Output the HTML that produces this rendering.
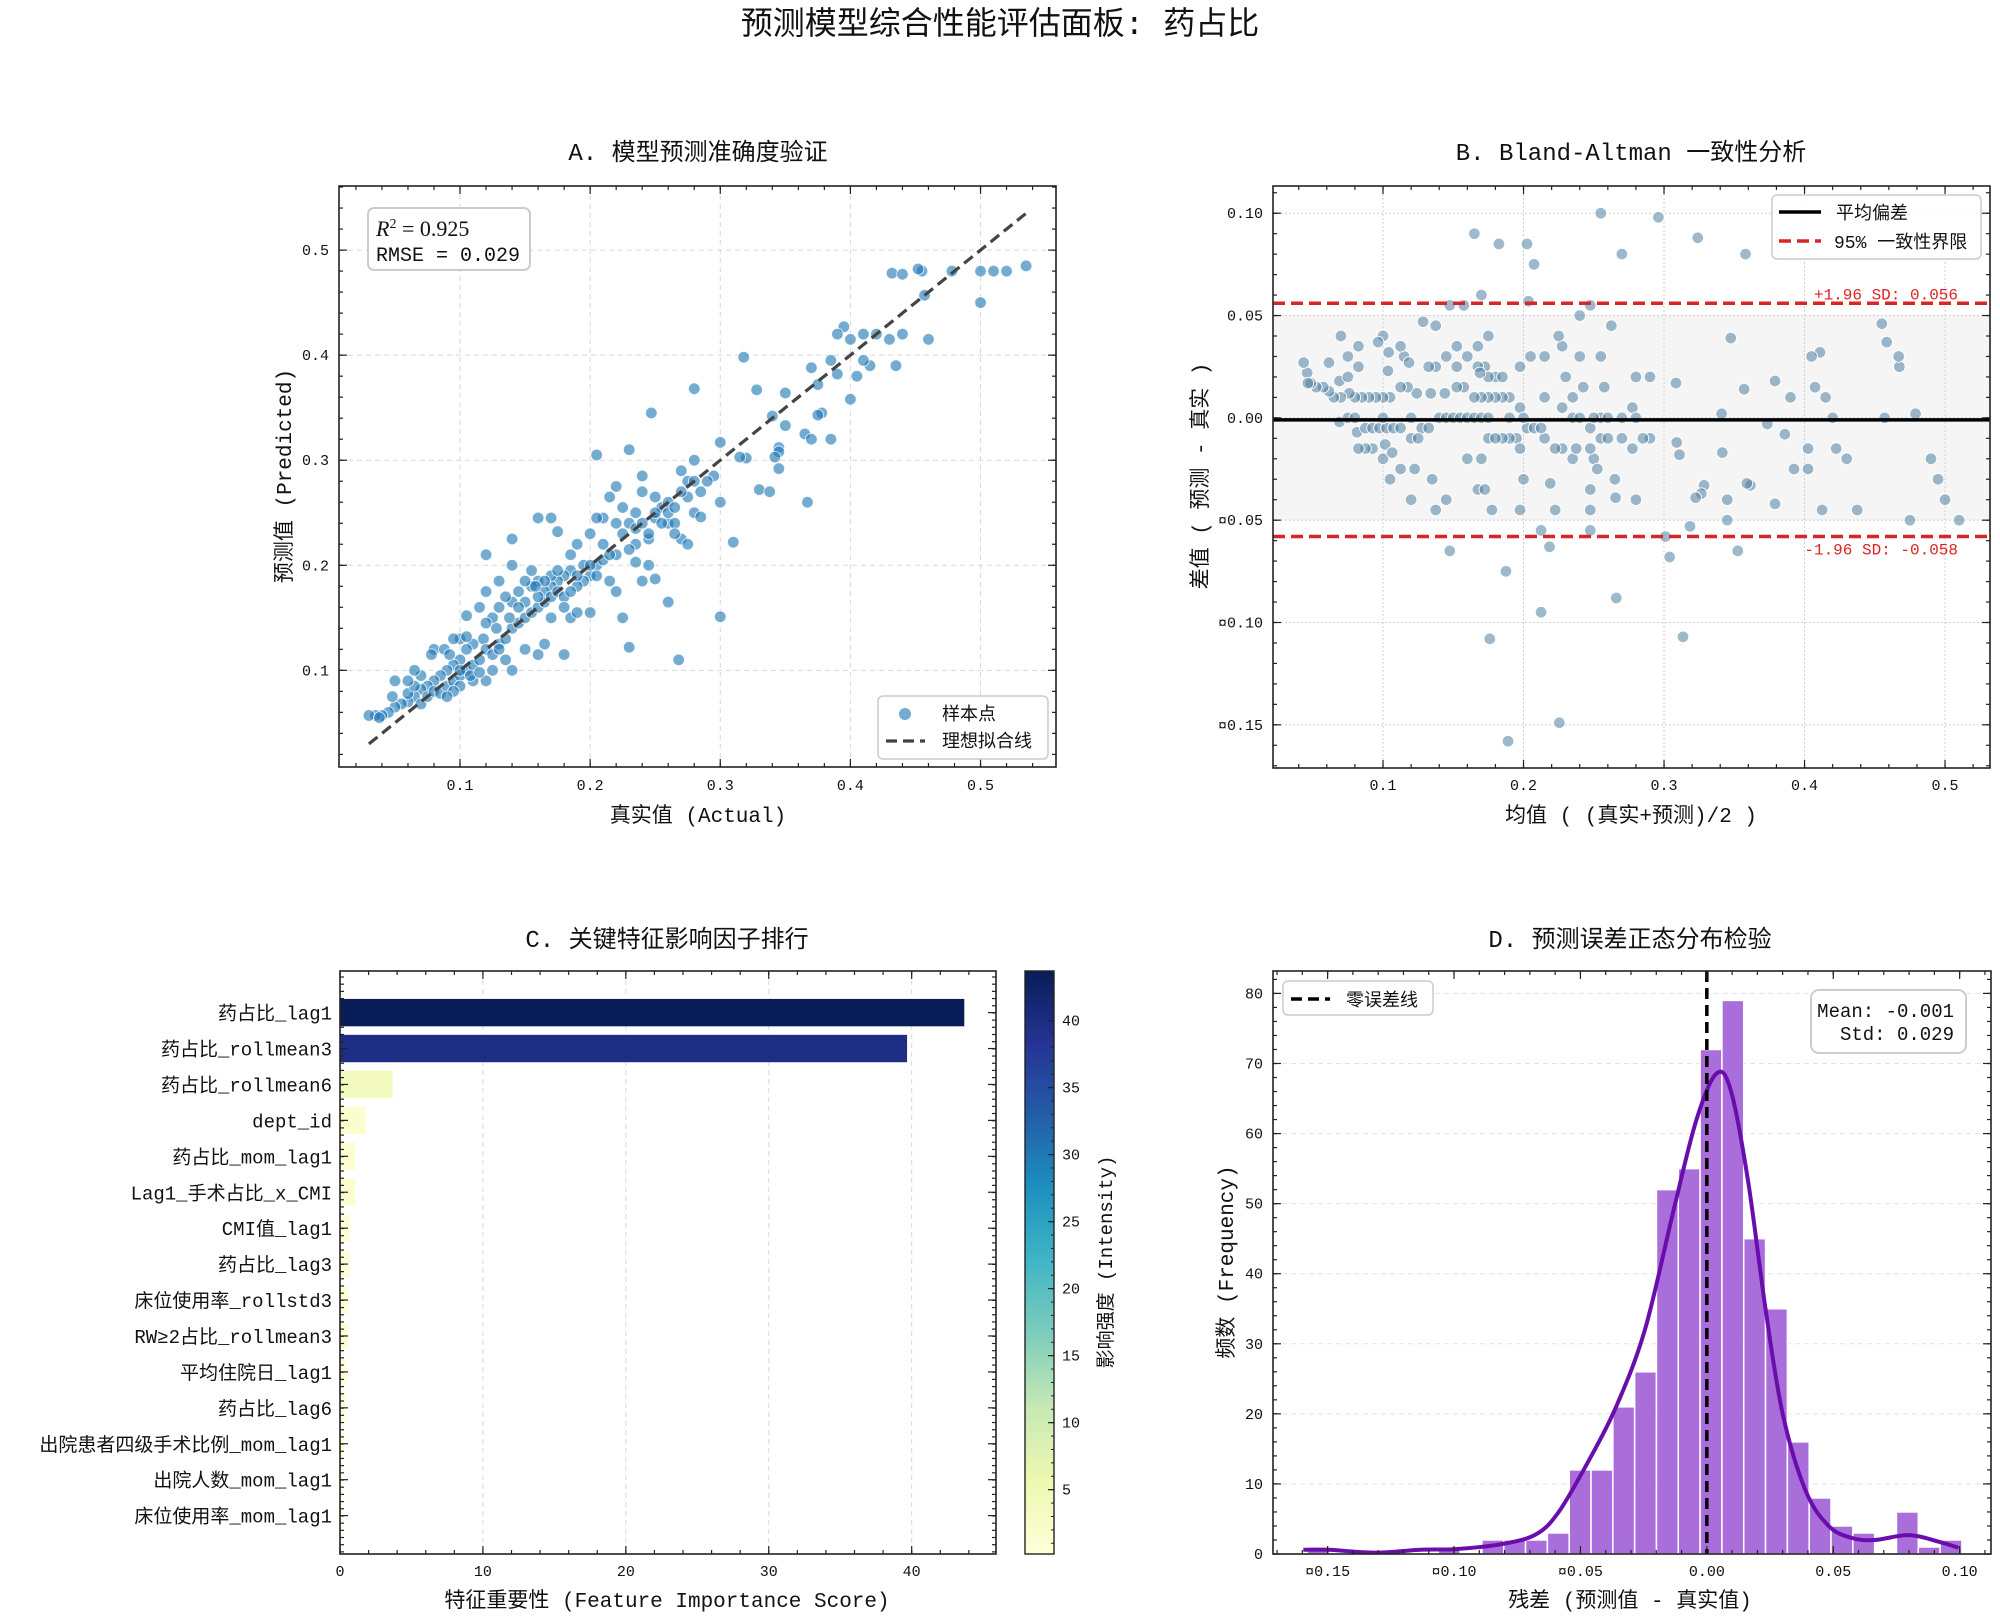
<!DOCTYPE html>
<html><head><meta charset="utf-8">
<style>
html,body{margin:0;padding:0;background:#fff;}
svg{display:block;font-family:"Liberation Mono","Noto Sans CJK SC",monospace;}
</style></head>
<body>
<svg id="chart" width="2000" height="1619" viewBox="0 0 2000 1619" xmlns="http://www.w3.org/2000/svg">
<rect x="0" y="0" width="2000" height="1619" fill="#fff"/>
<text x="1000" y="34" font-size="32" text-anchor="middle" fill="#111">预测模型综合性能评估面板: 药占比</text>
</svg>
<script>
// ---------- DATA ----------
const actualVals = [0.5,0.535,0.52,0.51,0.5,0.478,0.455,0.452,0.432,0.44,0.457,0.46,0.44,0.395,0.39,0.40,0.41,0.42,0.43,0.435,0.415,0.41,0.405,0.39,0.37,0.385,0.375,0.40,0.35,0.318,0.328,0.378,0.375,0.365,0.37,0.385,0.35,0.34,0.345,0.345,0.342,0.32,0.315,0.345,0.367,0.33,0.338,0.31,0.3,0.268,0.23,0.225,0.26,0.25,0.235,0.245,0.3,0.295,0.3,0.28,0.27,0.29,0.275,0.28,0.285,0.27,0.275,0.26,0.255,0.25,0.24,0.24,0.23,0.205,0.247,0.28,0.22,0.215,0.21,0.22,0.225,0.23,0.235,0.245,0.25,0.26,0.265,0.245,0.235,0.23,0.22,0.21,0.2,0.205,0.215,0.22,0.24,0.205,0.2,0.195,0.19,0.185,0.18,0.175,0.17,0.165,0.16,0.155,0.15,0.15,0.145,0.14,0.135,0.13,0.125,0.12,0.118,0.11,0.105,0.1,0.095,0.09,0.085,0.08,0.075,0.07,0.065,0.06,0.055,0.05,0.045,0.04,0.035,0.03,0.038,0.048,0.05,0.06,0.065,0.07,0.075,0.08,0.085,0.09,0.095,0.1,0.105,0.11,0.115,0.12,0.125,0.13,0.135,0.14,0.145,0.15,0.155,0.16,0.165,0.17,0.175,0.18,0.185,0.19,0.195,0.08,0.078,0.1,0.105,0.115,0.13,0.12,0.14,0.105,0.15,0.16,0.165,0.18,0.17,0.185,0.19,0.2,0.18,0.16,0.17,0.175,0.185,0.19,0.155,0.14,0.12,0.13,0.14,0.135,0.11,0.1,0.095,0.09,0.12,0.125,0.07,0.06,0.065,0.088,0.092,0.095,0.1,0.108,0.115,0.128,0.138,0.145,0.16,0.17,0.175,0.165,0.158,0.2,0.205,0.21,0.215,0.225,0.235,0.24,0.25,0.255,0.26,0.265,0.27,0.275,0.285,0.265,0.28];
const predictedVals = [0.45,0.485,0.48,0.48,0.48,0.48,0.48,0.482,0.478,0.477,0.457,0.415,0.42,0.427,0.42,0.415,0.42,0.42,0.415,0.39,0.39,0.395,0.38,0.382,0.388,0.395,0.372,0.358,0.364,0.398,0.367,0.345,0.343,0.325,0.32,0.32,0.333,0.342,0.312,0.308,0.303,0.302,0.303,0.292,0.26,0.272,0.27,0.222,0.151,0.11,0.122,0.15,0.165,0.187,0.203,0.2,0.317,0.285,0.26,0.3,0.29,0.28,0.265,0.25,0.246,0.225,0.22,0.24,0.255,0.265,0.27,0.285,0.31,0.305,0.345,0.368,0.275,0.265,0.245,0.24,0.255,0.24,0.235,0.225,0.245,0.26,0.24,0.23,0.22,0.215,0.21,0.22,0.23,0.245,0.185,0.175,0.185,0.2,0.19,0.185,0.18,0.195,0.19,0.185,0.18,0.175,0.185,0.18,0.185,0.165,0.175,0.165,0.17,0.16,0.15,0.145,0.13,0.125,0.12,0.11,0.105,0.1,0.095,0.09,0.085,0.082,0.075,0.07,0.068,0.065,0.06,0.057,0.057,0.057,0.055,0.075,0.09,0.078,0.085,0.068,0.075,0.08,0.078,0.085,0.09,0.095,0.1,0.105,0.11,0.12,0.115,0.125,0.13,0.14,0.145,0.15,0.155,0.16,0.165,0.17,0.175,0.17,0.175,0.19,0.2,0.12,0.115,0.13,0.132,0.16,0.185,0.21,0.225,0.152,0.12,0.115,0.125,0.115,0.15,0.15,0.155,0.155,0.16,0.245,0.245,0.232,0.21,0.22,0.195,0.2,0.175,0.12,0.1,0.11,0.09,0.085,0.08,0.075,0.09,0.1,0.095,0.09,0.1,0.12,0.115,0.13,0.1,0.095,0.098,0.14,0.15,0.16,0.17,0.19,0.195,0.185,0.18,0.2,0.19,0.205,0.21,0.23,0.25,0.24,0.25,0.24,0.25,0.255,0.27,0.28,0.27,0.23,0.28];
const scatterXTicks = [0.1,0.2,0.3,0.4,0.5];
const scatterYTicks = [0.1,0.2,0.3,0.4,0.5];
const r2Text = "0.925";
const rmseText = "0.029";

const baBias = -0.001;
const baUpper = 0.056;
const baLower = -0.058;
const baXTicks = [0.1,0.2,0.3,0.4,0.5];
const baYTicks = [0.10,0.05,0.00,-0.05,-0.10,-0.15];
const baYTickLabels = ["0.10","0.05","0.00","¤0.05","¤0.10","¤0.15"];

const featureNames = ["药占比_lag1","药占比_rollmean3","药占比_rollmean6","dept_id","药占比_mom_lag1","Lag1_手术占比_x_CMI","CMI值_lag1","药占比_lag3","床位使用率_rollstd3","RW≥2占比_rollmean3","平均住院日_lag1","药占比_lag6","出院患者四级手术比例_mom_lag1","出院人数_mom_lag1","床位使用率_mom_lag1"];
const featureImportance = [43.7,39.7,3.7,1.8,1.1,1.1,0.7,0.7,0.6,0.6,0.5,0.4,0.3,0.2,0.2];
const importanceTicks = [0,10,20,30,40];
const colorbarTicks = [5,10,15,20,25,30,35,40];

const histBinStart = -0.158;
const histBinWidth = 0.00863;
const histCounts = [1,0,0,0,0,0,1,0,2,2,2,3,12,12,21,26,52,55,72,79,45,35,16,8,4,3,0,6,1,2];
const kdeX = [-0.1596,-0.1494,-0.1312,-0.1131,-0.0994,-0.0813,-0.0676,-0.0586,-0.0472,-0.0359,-0.0245,-0.0132,-0.0041,0.0039,0.0096,0.0164,0.0232,0.03,0.0391,0.0482,0.0572,0.0663,0.08,0.0913,0.0995];
const kdeY = [0.6,0.6,0.2,0.6,0.7,1.4,2.8,6,13,21,32,49,62,68.6,66,53,35,20,9,4,2.3,2.0,2.7,1.8,0.9];
const histXTicks = [-0.15,-0.10,-0.05,0.00,0.05,0.10];
const histXTickLabels = ["¤0.15","¤0.10","¤0.05","0.00","0.05","0.10"];
const histYTicks = [0,10,20,30,40,50,60,70,80];
const residMeanText = "-0.001";
const residStdText = "0.029";

// ---------- helpers ----------
const NS="http://www.w3.org/2000/svg";
const svg=document.getElementById('chart');
function mk(tag,attrs,parent){const e=document.createElementNS(NS,tag);for(const k in attrs)e.setAttribute(k,attrs[k]);(parent||svg).appendChild(e);return e;}
function lin(d0,d1,r0,r1){return v=>r0+(v-d0)/(d1-d0)*(r1-r0);}
function txt(x,y,s,size,anchor,parent,extra){const t=mk('text',Object.assign({x:x,y:y,'font-size':size,'text-anchor':anchor||'middle',fill:'#111'},extra||{}),parent);t.textContent=s;return t;}

function frame(g,L,T,R,B,xs,ys,xMaj,yMaj,xMinStep,yMinStep,xr,yr){
  const tk=mk('g',{stroke:'#222','stroke-width':1.2},g);
  
  
  if(xMinStep){for(let v=Math.ceil(xr[0]/xMinStep)*xMinStep;v<=xr[1]+1e-9;v+=xMinStep){const x=xs(v);mk('line',{x1:x,x2:x,y1:B,y2:B-4},tk);mk('line',{x1:x,x2:x,y1:T,y2:T+4},tk);}}
  if(yMinStep){for(let v=Math.ceil(yr[0]/yMinStep)*yMinStep;v<=yr[1]+1e-9;v+=yMinStep){const y=ys(v);mk('line',{x1:R,x2:R-4,y1:y,y2:y},tk);mk('line',{x1:L,x2:L+4,y1:y,y2:y},tk);}}
  xMaj.forEach(v=>{const x=xs(v);mk('line',{x1:x,x2:x,y1:B,y2:B-8},tk);mk('line',{x1:x,x2:x,y1:T,y2:T+8},tk);});
  yMaj.forEach(v=>{const y=ys(v);mk('line',{x1:L,x2:L+8,y1:y,y2:y},tk);mk('line',{x1:R,x2:R-8,y1:y,y2:y},tk);});
  const sp=mk('rect',{x:L,y:T,width:R-L,height:B-T,fill:'none',stroke:'#222','stroke-width':1.6},g);
  
  
}

// ================= PANEL A =================
(function(){
const L=339,R=1056,T=186,B=767;
const xs=lin(0.007,0.558,L,R), ys=lin(0.008,0.561,B,T);
const g=mk('g',{});


txt(698,160,'A. 模型预测准确度验证',24,'middle',g);
const grid=mk('g',{stroke:'#d8d8d8','stroke-width':1,'stroke-dasharray':'5,4'},g);


scatterXTicks.forEach(v=>mk('line',{x1:xs(v),x2:xs(v),y1:T,y2:B},grid));
scatterYTicks.forEach(v=>mk('line',{x1:L,x2:R,y1:ys(v),y2:ys(v)},grid));
const pts=mk('g',{},g);


actualVals.forEach((a,i)=>{
  const c=mk('circle',{cx:xs(a),cy:ys(predictedVals[i]),r:5.8,fill:'#1f77b4','fill-opacity':0.62,stroke:'#fff','stroke-width':0.9,'stroke-opacity':0.8},pts);
  
  
});
const minV=Math.min(...actualVals), maxV=Math.max(...actualVals);
const ideal=mk('line',{x1:xs(minV),y1:ys(minV),x2:xs(maxV),y2:ys(maxV),stroke:'#444','stroke-width':3.2,'stroke-dasharray':'11,6'},g);


frame(g,L,T,R,B,xs,ys,scatterXTicks,scatterYTicks,0.02,0.02,[0.007,0.558],[0.008,0.561]);
scatterXTicks.forEach(v=>{const t=txt(xs(v),790,v.toFixed(1),15,'middle',g);});
scatterYTicks.forEach(v=>{const t=txt(L-10,ys(v)+5,v.toFixed(1),15,'end',g);});
txt(698,822,'真实值 (Actual)',21,'middle',g);
const yl=txt(0,0,'预测值 (Predicted)',21,'middle',g,{transform:'translate(291,476) rotate(-90)'});

const box=mk('rect',{x:368,y:208,width:162,height:62,rx:6,fill:'#fff',stroke:'#ccc','stroke-width':2},g);


const r2=txt(376,236,'',22,'start',g,{'font-family':'"Liberation Serif",serif','font-style':'italic'});

r2.innerHTML='R<tspan dy="-8" font-size="14" font-style="normal">2</tspan><tspan dy="8" font-style="normal"> = '+r2Text+'</tspan>';
txt(376,261,'RMSE = '+rmseText,20,'start',g);
const lg=mk('g',{},g);


mk('rect',{x:878,y:696,width:170,height:63,rx:5,fill:'#fff','fill-opacity':0.9,stroke:'#ccc','stroke-width':1.5},lg);
mk('circle',{cx:905,cy:714,r:6,fill:'#1f77b4','fill-opacity':0.62},lg);
txt(942,720,'样本点',18,'start',lg);
mk('line',{x1:886,x2:925,y1:741,y2:741,stroke:'#444','stroke-width':3.2,'stroke-dasharray':'11,6'},lg);
txt(942,747,'理想拟合线',18,'start',lg);
})();

// ================= PANEL B =================
(function(){
const L=1273,R=1990,T=186,B=768;
const xr=[0.0217,0.532], yr=[-0.1711,0.1133];
const xs=lin(xr[0],xr[1],L,R), ys=lin(yr[0],yr[1],B,T);
const g=mk('g',{});


txt(1631,160,'B. Bland-Altman 一致性分析',24,'middle',g);
const band=mk('rect',{x:L,y:ys(0.05),width:R-L,height:ys(-0.05)-ys(0.05),fill:'#f5f5f5'},g);


const grid=mk('g',{stroke:'#d0d0d0','stroke-width':1,'stroke-dasharray':'2,2'},g);


baXTicks.forEach(v=>mk('line',{x1:xs(v),x2:xs(v),y1:T,y2:B},grid));
baYTicks.forEach(v=>mk('line',{x1:L,x2:R,y1:ys(v),y2:ys(v)},grid));
const pts=mk('g',{},g);


actualVals.forEach((a,i)=>{
  const p=predictedVals[i];
  const c=mk('circle',{cx:xs((a+p)/2),cy:ys(p-a),r:5.8,fill:'#4f7fa3','fill-opacity':0.55,stroke:'#fff','stroke-width':0.9},pts);
  
  
});
const ml=mk('line',{x1:L,x2:R,y1:ys(baBias),y2:ys(baBias),stroke:'#000','stroke-width':3.5},g);


const ul=mk('line',{x1:L,x2:R,y1:ys(baUpper),y2:ys(baUpper),stroke:'#d62728','stroke-width':3.5,'stroke-dasharray':'12,6'},g);


const ll=mk('line',{x1:L,x2:R,y1:ys(baLower),y2:ys(baLower),stroke:'#d62728','stroke-width':3.5,'stroke-dasharray':'12,6'},g);


txt(1958,ys(baUpper)-4,'+1.96 SD: '+baUpper.toFixed(3),16,'end',g,{fill:'#e02020'});
txt(1958,ys(baLower)+18,'-1.96 SD: '+baLower.toFixed(3),16,'end',g,{fill:'#e02020'});
frame(g,L,T,R,B,xs,ys,baXTicks,baYTicks,0.02,0.01,xr,yr);
baXTicks.forEach(v=>{txt(xs(v),790,v.toFixed(1),15,'middle',g);});
baYTicks.forEach((v,i)=>{txt(L-10,ys(v)+5,baYTickLabels[i],15,'end',g);});
txt(1631,822,'均值 ( (真实+预测)/2 )',21,'middle',g);
txt(0,0,'差值 ( 预测 - 真实 )',21,'middle',g,{transform:'translate(1207,476) rotate(-90)'});
const lg=mk('g',{},g);


mk('rect',{x:1772,y:195,width:209,height:64,rx:5,fill:'#fff','fill-opacity':0.9,stroke:'#ccc','stroke-width':1.5},lg);
mk('line',{x1:1779,x2:1821,y1:212,y2:212,stroke:'#000','stroke-width':3.5},lg);
txt(1836,219,'平均偏差',18,'start',lg);
mk('line',{x1:1779,x2:1821,y1:241,y2:241,stroke:'#d62728','stroke-width':3.5,'stroke-dasharray':'12,6'},lg);
txt(1834,248,'95% 一致性界限',18,'start',lg);
})();

// ================= PANEL C =================
(function(){
const L=340,R=996,T=971,B=1554;
const xr=[0,45.9];
const xs=lin(xr[0],xr[1],L,R);
const row0=1012.6, rowStep=35.93, barH=28;
const vmin=Math.min(...featureImportance), vmax=Math.max(...featureImportance);
const stops=['#ffffd9','#edf8b1','#c7e9b4','#7fcdbb','#41b6c4','#1d91c0','#225ea8','#253494','#081d58'];
function hex(h){return [1,3,5].map(i=>parseInt(h.substr(i,2),16));}
function cmap(t){t=Math.max(0,Math.min(1,t));const p=t*(stops.length-1);const i=Math.min(stops.length-2,Math.floor(p));const f=p-i;const a=hex(stops[i]),b=hex(stops[i+1]);return 'rgb('+a.map((v,k)=>Math.round(v+(b[k]-v)*f)).join(',')+')';}
const g=mk('g',{});


txt(667,947,'C. 关键特征影响因子排行',24,'middle',g);
const grid=mk('g',{stroke:'#d8d8d8','stroke-width':1,'stroke-dasharray':'5,4'},g);


importanceTicks.forEach(v=>mk('line',{x1:xs(v),x2:xs(v),y1:T,y2:B},grid));
featureImportance.forEach((v,i)=>{
  const y=row0+i*rowStep;
  const b=mk('rect',{x:xs(0),y:y-barH/2,width:xs(v)-xs(0),height:barH,fill:cmap((v-vmin)/(vmax-vmin)),stroke:'#fff','stroke-width':0.6},g);
  
  
  const t=txt(L-8,y+7,featureNames[i],19,'end',g);
  
});
const tk=mk('g',{stroke:'#222','stroke-width':1.2},g);


featureImportance.forEach((v,i)=>{const y=row0+i*rowStep;mk('line',{x1:L,x2:L+8,y1:y,y2:y},tk);mk('line',{x1:R,x2:R-8,y1:y,y2:y},tk);});
for(let y=T+6;y<B;y+=rowStep/5){mk('line',{x1:L,x2:L+4,y1:y,y2:y},tk);mk('line',{x1:R,x2:R-4,y1:y,y2:y},tk);}
for(let v=0;v<=45;v+=2){mk('line',{x1:xs(v),x2:xs(v),y1:B,y2:B-4},tk);mk('line',{x1:xs(v),x2:xs(v),y1:T,y2:T+4},tk);}
importanceTicks.forEach(v=>{mk('line',{x1:xs(v),x2:xs(v),y1:B,y2:B-8},tk);mk('line',{x1:xs(v),x2:xs(v),y1:T,y2:T+8},tk);});
const sp=mk('rect',{x:L,y:T,width:R-L,height:B-T,fill:'none',stroke:'#222','stroke-width':1.6},g);


importanceTicks.forEach(v=>{txt(xs(v),1576,String(v),15,'middle',g);});
txt(667,1607,'特征重要性 (Feature Importance Score)',21,'middle',g);
const cb=mk('g',{},g);


const defs=mk('defs',{},svg);
const lgr=mk('linearGradient',{id:'ylgnbu',x1:0,y1:1,x2:0,y2:0},defs);
stops.forEach((c,i)=>mk('stop',{offset:(i/(stops.length-1)),'stop-color':c},lgr));
const CL=1025,CR=1054,CT=971,CB=1554;
const cys=lin(vmin,vmax,CB,CT);
mk('rect',{x:CL,y:CT,width:CR-CL,height:CB-CT,fill:'url(#ylgnbu)',stroke:'#222','stroke-width':1.4},cb);
colorbarTicks.forEach(v=>{const y=cys(v);mk('line',{x1:CR,x2:CR-6,y1:y,y2:y,stroke:'#222','stroke-width':1.2},cb);txt(CR+8,y+5,String(v),15,'start',cb);});
for(let v=1;v<vmax;v+=1){const y=cys(v);mk('line',{x1:CR,x2:CR-3,y1:y,y2:y,stroke:'#222','stroke-width':1},cb);}
txt(0,0,'影响强度 (Intensity)',19,'middle',cb,{transform:'translate(1112,1262) rotate(-90)'});
})();

// ================= PANEL D =================
(function(){
const L=1273,R=1991,T=971,B=1554;
const xr=[-0.1716,0.1124], yr=[0,83.2];
const xs=lin(xr[0],xr[1],L,R), ys=lin(yr[0],yr[1],B,T);
const g=mk('g',{});


txt(1630,947,'D. 预测误差正态分布检验',24,'middle',g);
const grid=mk('g',{stroke:'#e2e2e2','stroke-width':1,'stroke-dasharray':'5,4'},g);


histYTicks.forEach(v=>mk('line',{x1:L,x2:R,y1:ys(v),y2:ys(v)},grid));
histCounts.forEach((c,i)=>{
  if(c<=0)return;
  const x0=histBinStart+i*histBinWidth;
  const r=mk('rect',{x:xs(x0),y:ys(c),width:xs(x0+histBinWidth)-xs(x0),height:ys(0)-ys(c),fill:'#9b55d3','fill-opacity':0.85,stroke:'#fff','stroke-width':1.5},g);
  
  
});
// smooth catmull-rom path through KDE points
const P=kdeX.map((x,i)=>[xs(x),ys(kdeY[i])]);
let d='M'+P[0][0].toFixed(1)+','+P[0][1].toFixed(1);
for(let i=0;i<P.length-1;i++){
  const p0=P[Math.max(0,i-1)],p1=P[i],p2=P[i+1],p3=P[Math.min(P.length-1,i+2)];
  const c1=[p1[0]+(p2[0]-p0[0])/6,p1[1]+(p2[1]-p0[1])/6];
  const c2=[p2[0]-(p3[0]-p1[0])/6,p2[1]-(p3[1]-p1[1])/6];
  d+=' C'+c1.map(v=>v.toFixed(1)).join(',')+' '+c2.map(v=>v.toFixed(1)).join(',')+' '+p2.map(v=>v.toFixed(1)).join(',');
}
const kde=mk('path',{d:d,fill:'none',stroke:'#6a0dad','stroke-width':4,'stroke-linejoin':'round'},g);


const zl=mk('line',{x1:xs(0),x2:xs(0),y1:T,y2:B,stroke:'#000','stroke-width':3.5,'stroke-dasharray':'11,6'},g);


frame(g,L,T,R,B,xs,ys,histXTicks,histYTicks,0.01,2,xr,yr);
histXTicks.forEach((v,i)=>{txt(xs(v),1576,histXTickLabels[i],15,'middle',g);});
histYTicks.forEach(v=>{txt(L-10,ys(v)+5,String(v),15,'end',g);});
txt(1630,1607,'残差 (预测值 - 真实值)',21,'middle',g);
txt(0,0,'频数 (Frequency)',21,'middle',g,{transform:'translate(1233,1262) rotate(-90)'});
const lg=mk('g',{},g);


mk('rect',{x:1283,y:981,width:150,height:34,rx:5,fill:'#fff','fill-opacity':0.9,stroke:'#ccc','stroke-width':1.5},lg);
mk('line',{x1:1291,x2:1330,y1:999,y2:999,stroke:'#000','stroke-width':3.5,'stroke-dasharray':'11,6'},lg);
txt(1346,1006,'零误差线',18,'start',lg);
const sb=mk('g',{},g);


mk('rect',{x:1811,y:990,width:155,height:63,rx:8,fill:'#fff',stroke:'#ccc','stroke-width':2},sb);
txt(1954,1017,'Mean: '+residMeanText,19,'end',sb);
txt(1954,1040,'Std: '+residStdText,19,'end',sb);
})();
</script>
</body></html>
